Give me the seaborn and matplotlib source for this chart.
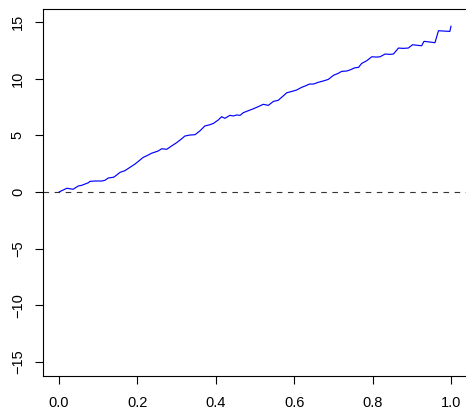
import matplotlib
matplotlib.use("Agg")
import matplotlib.pyplot as plt
import seaborn as sns
import pandas as pd

# data
x_vals = [0.000, 0.020, 0.036, 0.049, 0.058, 0.075, 0.079, 0.092, 0.109, 0.117,
          0.126, 0.139, 0.143, 0.156, 0.168, 0.194, 0.215, 0.224, 0.236, 0.253,
          0.262, 0.275, 0.287, 0.300, 0.313, 0.321, 0.334, 0.347, 0.360, 0.372,
          0.385, 0.394, 0.406, 0.415, 0.423, 0.436, 0.445, 0.453, 0.462, 0.470,
          0.483, 0.496, 0.508, 0.521, 0.534, 0.547, 0.559, 0.568, 0.581, 0.594,
          0.606, 0.619, 0.628, 0.639, 0.649, 0.661, 0.674, 0.687, 0.700, 0.712,
          0.721, 0.734, 0.742, 0.755, 0.764, 0.772, 0.785, 0.798, 0.810, 0.819,
          0.832, 0.844, 0.853, 0.866, 0.878, 0.891, 0.902, 0.917, 0.925, 0.931,
          0.946, 0.959, 0.968, 0.980, 0.997, 1.000]
y_vals = [0.00, 0.33, 0.24, 0.53, 0.59, 0.82, 0.94, 0.97, 0.97, 1.03,
          1.24, 1.30, 1.39, 1.74, 1.88, 2.47, 3.06, 3.20, 3.42, 3.62,
          3.82, 3.77, 4.06, 4.35, 4.70, 4.94, 5.03, 5.06, 5.41, 5.83,
          5.94, 6.06, 6.35, 6.65, 6.50, 6.77, 6.71, 6.80, 6.77, 7.00,
          7.18, 7.35, 7.53, 7.74, 7.65, 8.00, 8.09, 8.36, 8.76, 8.88,
          9.00, 9.24, 9.36, 9.53, 9.53, 9.68, 9.80, 9.94, 10.30, 10.47,
          10.65, 10.68, 10.77, 10.97, 11.00, 11.35, 11.59, 11.94, 11.91, 11.94,
          12.18, 12.15, 12.18, 12.71, 12.68, 12.71, 13.00, 12.94, 12.91, 13.30,
          13.24, 13.18, 14.24, 14.21, 14.18, 14.65]
x_ticks = [0.0, 0.2, 0.4, 0.6, 0.8, 1.0]
x_ticklabels = ["0.0", "0.2", "0.4", "0.6", "0.8", "1.0"]
y_ticks = [-15, -10, -5, 0, 5, 10, 15]
y_ticklabels = ["\u221215", "\u221210", "\u22125", "0", "5", "10", "15"]
ref_level = 0

sns.set_style("ticks")
plt.rcParams['font.family'] = ['Liberation Sans', 'DejaVu Sans']

W, H = 466, 412
fig = plt.figure(figsize=(W / 100, H / 100), dpi=100)
left, right, top, bottom = 43, 470, 8.5, 375.5
ax = fig.add_axes([left / W, (H - bottom) / H, (right - left) / W, (bottom - top) / H])

df = pd.DataFrame({"x": x_vals, "y": y_vals})
sns.lineplot(data=df, x="x", y="y", ax=ax, sort=False, estimator=None,
             color="#0000FF", linewidth=0.85)
ax.axhline(ref_level, color="#333333", linewidth=0.8, dashes=(5, 5))

ax.set_xlim(-0.0408, 1.0484)
ax.set_ylim(-16.2, 16.2)
ax.set_xticks(x_ticks)
ax.set_xticklabels(x_ticklabels)
ax.set_yticks(y_ticks)
ax.set_yticklabels(y_ticklabels, rotation=90, va="center")
ax.set_xlabel("")
ax.set_ylabel("")
for s in ax.spines.values():
    s.set_linewidth(0.8)
    s.set_color("black")
ax.spines["right"].set_visible(False)
ax.tick_params(axis="both", length=6, width=0.8, color="black",
               labelsize=10.5, labelcolor="black")
ax.tick_params(axis="x", pad=9)
ax.tick_params(axis="y", pad=7)

fig.savefig("out.png", dpi=100, facecolor="white")
